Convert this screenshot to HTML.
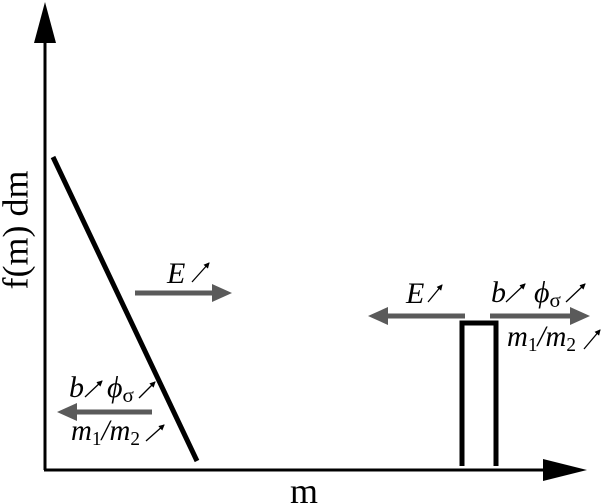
<!DOCTYPE html>
<html><head><style>body{margin:0;background:#fff}svg{display:block}
text{font-family:"Liberation Serif",serif}
</style></head>
<body>
<svg width="601" height="503" viewBox="0 0 601 503" xmlns="http://www.w3.org/2000/svg">
<defs>
<marker id="sa" markerWidth="6" markerHeight="6" refX="5" refY="3" orient="auto" markerUnits="userSpaceOnUse"><path d="M0,0 L6,3 L0,6 z" fill="#000"/></marker>
</defs>
<line x1="45" y1="470" x2="45" y2="40" stroke="#000" stroke-width="3"/>
<polygon points="45,2 34,43 56,43" fill="#000"/>
<line x1="44" y1="470" x2="548" y2="470" stroke="#000" stroke-width="3"/>
<polygon points="587,470 543,459 543,481" fill="#000"/>
<text x="19" y="230" text-anchor="middle" transform="rotate(-90 19 230)" dominant-baseline="middle" style="font-size:36px">f(m) dm</text>
<text x="304" y="503" text-anchor="middle" style="font-size:36px">m</text>
<line x1="53" y1="157" x2="197" y2="461" stroke="#000" stroke-width="5"/>
<polyline points="462,466 462,323 496,323 496,466" fill="none" stroke="#000" stroke-width="5"/>
<g fill="#5a5a5a" stroke="#5a5a5a">
<line x1="135" y1="293" x2="214" y2="293" stroke-width="5"/>
<polygon points="232,293 212,284 212,302" stroke="none"/>
<line x1="152" y1="412" x2="76" y2="412" stroke-width="5"/>
<polygon points="57,412 77,403 77,421" stroke="none"/>
<line x1="465" y1="316" x2="388" y2="316" stroke-width="5"/>
<polygon points="368,316 388,307 388,325" stroke="none"/>
<line x1="490" y1="316" x2="572" y2="316" stroke-width="5"/>
<polygon points="590,316 570,307 570,325" stroke="none"/>
</g>
<g style="font-size:30px;font-style:italic">
<text x="167" y="283">E</text>
<text x="69" y="397">b</text>
<text x="107" y="397">ϕ<tspan dy="5" style="font-size:21px;font-style:normal">σ</tspan></text>
<text x="71" y="440" textLength="69" lengthAdjust="spacingAndGlyphs">m<tspan dy="5" style="font-size:20px;font-style:normal">1</tspan><tspan dy="-5">/m</tspan><tspan dy="5" style="font-size:20px;font-style:normal">2</tspan></text>
<text x="406" y="303">E</text>
<text x="491" y="302">b</text>
<text x="534" y="302">ϕ<tspan dy="5" style="font-size:21px;font-style:normal">σ</tspan></text>
<text x="507" y="346" textLength="69" lengthAdjust="spacingAndGlyphs">m<tspan dy="5" style="font-size:20px;font-style:normal">1</tspan><tspan dy="-5">/m</tspan><tspan dy="5" style="font-size:20px;font-style:normal">2</tspan></text>
</g>
<g stroke="#000" stroke-width="1.3" marker-end="url(#sa)">
<line x1="192" y1="282" x2="209" y2="263"/>
<line x1="85" y1="397" x2="102" y2="381"/>
<line x1="139" y1="398" x2="155" y2="382"/>
<line x1="146" y1="441" x2="164" y2="425"/>
<line x1="428" y1="302" x2="442" y2="285"/>
<line x1="506" y1="302" x2="525" y2="284"/>
<line x1="566" y1="302" x2="585" y2="284"/>
<line x1="584" y1="349" x2="600" y2="330"/>
</g>
</svg>
</body></html>
